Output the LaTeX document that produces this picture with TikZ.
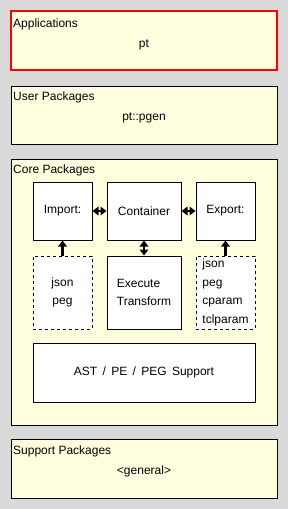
\documentclass[tikz,border=0pt]{standalone}
\usepackage{fontspec}
\setmainfont{Liberation Sans}
\usetikzlibrary{arrows.meta}
\definecolor{layerfill}{RGB}{255,255,224}
\definecolor{pagegray}{RGB}{217,217,217}
\definecolor{appred}{RGB}{255,0,0}

\begin{document}
\begin{tikzpicture}[x=1pt,y=-1pt,
  every node/.style={font=\fontsize{12}{18.5}\selectfont},
  layer/.style={draw=black,fill=layerfill,line width=1pt,minimum width=266pt,inner sep=0pt},
  part/.style={draw=black,fill=white,line width=1pt,inner sep=0pt},
  plugin/.style={part,dash pattern=on 3pt off 3pt},
  title/.style={anchor=base west,inner sep=0pt},
  caption/.style={anchor=base,inner sep=0pt},
  dbl/.style={line width=2.2pt,{Triangle[length=6pt,width=8.5pt]}-{Triangle[length=6pt,width=8.5pt]}},
  uni/.style={line width=2.2pt,-{Triangle[length=6pt,width=8.5pt]}}]
% page
\fill[pagegray] (0,0) rectangle (288,509);

% layers
\node[layer,draw=appred,line width=2pt,minimum height=59pt] (apps) at (144,40.5) {};
\node[layer,minimum height=58pt] (user) at (144,115) {};
\node[layer,minimum height=266pt] (core) at (144,292) {};
\node[layer,minimum height=59pt] (support) at (144,468.5) {};

% layer titles and contents
\node[title] (appstitle) at (13,27) {Applications};
\node[caption] (appspt) at (144,47) {pt};
\node[title] (usertitle) at (13,100) {User Packages};
\node[caption] (userpgen) at (144,120) {pt::pgen};
\node[title] (coretitle) at (13,173) {Core Packages};
\node[title] (supporttitle) at (13,454) {Support Packages};
\node[caption] (supportgen) at (144,474) {<general>};

% core parts
\node[part,minimum width=59pt,minimum height=58pt] (import) at (62.5,211) {Import:};
\node[part,minimum width=74pt,minimum height=58pt] (container) at (144,211) {Container};
\node[part,minimum width=59pt,minimum height=58pt] (export) at (225.5,211) {Export:};
\node[plugin,minimum width=59pt,minimum height=73pt,align=center] (importfmt) at (62.5,292.5) {json\\peg};
\node[part,minimum width=74pt,minimum height=73pt,align=left] (exec) at (144,292.5) {Execute\\Transform};
\node[plugin,minimum width=59pt,minimum height=73pt,align=left] (exportfmt) at (225.5,292.5) {json\\peg\\cparam\\tclparam};
\node[part,minimum width=222pt,minimum height=59pt] (ast) at (144,372.5) {AST \,/\, PE \,/\, PEG \,Support};

% connections
\draw[dbl] (import) -- (container);
\draw[dbl] (container) -- (export);
\draw[dbl] (container) -- (exec);
\draw[uni] (importfmt) -- (import);
\draw[uni] (exportfmt) -- (export);
\end{tikzpicture}
\end{document}
